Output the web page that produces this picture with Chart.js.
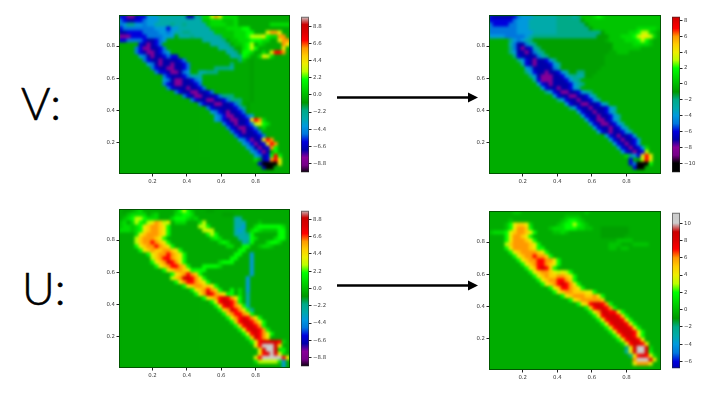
<!DOCTYPE html>
<html><head><meta charset="utf-8">
<script src="https://cdn.jsdelivr.net/npm/chart.js@4"></script>
<style>
html,body{margin:0;padding:0;background:#fff;width:719px;height:393px;overflow:hidden}
#stage{position:relative;width:719px;height:393px}
.clip{position:absolute;overflow:hidden}
.clip canvas{position:absolute;filter:blur(1.7px)}
.over{position:absolute;filter:blur(.45px)}
.lab{position:absolute;font-family:Lato,"Open Sans",sans-serif;font-weight:300;font-size:45px;line-height:45px;color:#000;-webkit-text-stroke:.6px #000}
svg{position:absolute;left:0;top:0}
</style></head><body><div id="stage">
<div class="lab" style="left:21px;top:81px">V:</div>
<div class="lab" style="left:22px;top:266px">U:</div>
<svg width="719" height="393"><g fill="#000" stroke="#000">
<line x1="337" y1="97.5" x2="470" y2="97.5" stroke-width="2.6"/><path d="M468 92.5L478 97.5L468 102.5Z" stroke-width="0"/>
<line x1="337" y1="285.5" x2="470" y2="285.5" stroke-width="2.6"/><path d="M468 280.5L478 285.5L468 290.5Z" stroke-width="0"/>
</g></svg>
</div>
<script>
// value levels used by the heat cells
const levelCodes  = ['k','q','p','n','b','a','s','c','t','h','i','.','g','e','l','m','y','u','o','r','d','w'];
const levelValues = [-10.5,-9.2,-8.2,-7,-6,-5,-4,-3,-2,-1,-0.8,-0.5,0.3,1,2,3,4,5,6,7,8.5,10];
const cols = 43, rowsCount = 40;
const xDomain = [0.005,1.0], yDomain = [0.008,0.992];
const axisTicks = [0.2,0.4,0.6,0.8];
const cbTicks11 = [8.8,6.6,4.4,2.2,0,-2.2,-4.4,-6.6,-8.8];
const cbTicksVR = [8,6,4,2,0,-2,-4,-6,-8,-10];
const cbTicksUR = [10,8,6,4,2,0,-2,-4,-6];
const cbRangeVL = [-9.9,10], cbRangeVR = [-11.15,8.48], cbRangeUL = [-9.9,9.9], cbRangeUR = [-6.77,11.2];
const spectralStops = [[0,0,0],[119,0,136],[136,0,153],[0,0,170],[0,0,221],[0,119,221],[0,153,221],[0,170,170],[0,170,136],[0,153,0],[0,187,0],[0,221,0],[0,255,0],[187,255,0],[238,238,0],[255,204,0],[255,153,0],[255,0,0],[221,0,0],[204,0,0],[204,204,204]];

const vLeftRows = [
"0:bbppnbbsssccccccc 17:nncteemoyeeee",
"0:abnnbbassscccccccccccct 21:ggeeeggge",
"0:asttssasscccctcctccccct 22:geeeegge 38:eeeee",
"0:baaaaaaaasssbsscccccccct 23:ggggeeeell",
"0:nnbbbbaaaassascc 16:ttcccccct 24:gggggeeell 37:yooy",
"0:pppbbbbaaaasss 15:ccc 18:tcc 20:ccccct 26:gggeeelm 34:mmyle 39:eoo",
"0:bbaaa 5:abnnbas 21:ccccct 28:ggeeellm 35:lee 40:yoo",
"5:bnpnba 23:cccct 29:ggelm 35:eg 41:oy",
"4:abppnnba 25:ccct 31:elml 41:y",
"4:abnppnbas 27:cct 31:lle 36:e 38:yrro",
"5:sanpnnba 12:abb 28:cct 31:le 35:eyme",
"6:abnnpnnnnba 30:tg 33:i",
"7:sanpnnpnnba 28:t 33:i",
"8:abnnppnnba 24:ttttc 33:i",
"9:abbnppnas 20:ccttt 33:i",
"11:abnnnbaccc 33:i",
"11:sanppnnbas 33:i",
"11:abnppnnnba 33:i",
"12:abnnnpnnba 33:i",
"14:abnnppnnba 33:i",
"16:abnppnnnba 26:ttt 33:i",
"18:abnnppnnba 28:ttt 33:i",
"20:abnnppnnba 30:t 32:i",
"22:abnnnnnba 31:t 32:i",
"23:sabnpnnba 32:i",
"24:sabppnnbas",
"24:sabnppnnb 33:yroe",
"26:abnpnnba 34:myle",
"27:abnppnba 36:e",
"28:abnpnnba",
"29:abnnnnba",
"30:sabpnna 36:yro",
"31:sabpnba 37:yro",
"32:sanpnb 38:ol",
"33:sabpn 39:l",
"34:sanb 38:lrl",
"34:e 36:nb 38:ory",
"35:bkkkkk 40:y",
"36:nkk",
""];

const vRightRows = [
"0:bnnnnnbasssccccccttttctgggelegggggggggggggggg",
"0:bbbbbbasssccccccctttttt 22:tigggggggggggggggggggg",
"0:abbbbaasssccccccctttttt 22:tti 25:gggggggggggggggggg",
"0:aaaaaaasssccccccctttttttt 23:tti 26:ggggggggggg 37:eeeeegg",
"0:aaaaaaassssccccccttttttttttt 27:ti 29:gggggg 35:eelmmeg",
"0:ssssaaaaasctttti 15:tttttttttttt 27:iii 30:ggg 33:eeelmyyme",
"5:tsasct 11:iiiiiiiiiiiiiiiiii 30:gggg 34:eeelmlg",
"5:cannact 12:iiiiiiiiiiiiiiiiii 30:iggggg 36:eeeeg",
"5:tanpnbct 13:iiiiiiiiiiiiiiiiii 31:ggggggg",
"5:tsnnpnact 14:iiiiiiiiiiiiiiii 32:ggg",
"6:tbnnnnact 15:iiiiiiiiiiiiii",
"7:tsbnpnnbst 17:iiiiiiiiiiii",
"8:cbnpnnnbsc 18:iiiiiiiiiii",
"9:sannnnnac 18:iiiiiiiiii",
"9:tsbnnpnnbsc 20:ii 22:tt 24:iii",
"10:tsnpppnnbsct 22:cc 24:ii",
"11:cbpppnnnbsct",
"12:sbnpnnnnbsct",
"13:sbnnpnnbsc",
"14:tsbnppnnbsct",
"16:sbnnppnnbsc",
"17:tsbnnpnnbsc",
"19:sbnnppnnbsc",
"20:tsbnnpnnnbsc",
"22:sbnnpnnbsc",
"23:sbnnpnnbsc",
"24:sbnppnbsc",
"25:sbnppnbsc",
"26:sbnnpnbsc",
"27:sbnpnnbsc",
"29:sbnpnnbs",
"30:sbnpnnbs",
"31:sbnpnbs",
"32:sbnpnbs 39:e",
"33:sbnpnbs 39:m",
"34:etsbna 38:yry",
"35:b 38:mry",
"35:bakkk 40:l",
"36:bkk",
""];

const uLeftRows = [
"1:ii 4:ge 14:glmlg 22:ii",
"2:gee 5:ee 8:ge 14:eelle 26:iii",
"1:ge 3:lmmle 8:ee 13:elllege 29:cc",
"0:ge 3:emle 7:myoumy 14:eee 20:em 29:ccc 35:g",
"0:gee 3:ge 5:lyuoouyl 20:mml 29:ccs 34:elllllle",
"0:eee 3:ge 5:lyuoouyl 21:mym 29:csc 33:eleggggll",
"4:eyuooouyl 22:lml 29:ccct 33:l 40:ll",
"4:muooouyl 23:ele 30:ccc 33:le 39:ell",
"4:muoorouyl 25:ele 31:ct 33:l 37:elle",
"4:lyuoorouyl 27:ee 31:ll 35:geeg",
"5:lyuouuoouyl 30:ll",
"33:s 7:lyuoorouyl 29:ll",
"33:s 8:muorrouyl 28:ll",
"33:s 8:lyuodroyl 25:elll",
"33:s 9:lyuorroul 21:lllle",
"33:s 11:lyuoouyl 19:lll",
"33:s 13:lyuoroul",
"32:s 13:muoddroyl",
"32:s 14:lyorrouyl",
"32:s 16:lyuoouuyl",
"32:s 18:lyuoroul 28:l 30:e",
"32:c 19:lyodrouyl 28:l 30:e",
"32:c 21:lyuordroyl",
"32:c 23:lyrddrol",
"32:c 24:lyrdroul",
"25:luodroyl 33:c",
"26:luorroul",
"27:lyordroyl",
"28:lurddroyl",
"29:lurddrol",
"30:lyrddrol",
"31:lyrdroyl",
"32:ludroy",
"33:lyrddddre",
"34:yrwwwdy",
"35:ydwwdel",
"35:yrdwdye",
"34:yrwwwwwry",
"34:emmmmme 41:s",
"41:s"];

const uRightRows = [
"6:gg 24:g",
"19:gggg",
"5:g 18:gelleg",
"4:g 5:lyuuye 17:gellmleg",
"4:g 5:lyooul 15:geeellleegg 28:iiiiiii",
"0:geeel 5:yuoouyl 16:ggeg 28:iiiiiii",
"4:lyoouyl 28:iiiiii",
"4:lyooouyl 32:gggg",
"4:muoooouyl 30:ggg 36:gggg",
"4:lyoooouyll 30:gg 33:gg",
"5:lyuoooouyl",
"6:lyuoorooul",
"7:lyuoorrooyl",
"8:lyuorrouyl",
"9:lyurdrul",
"10:lyuoouymyml",
"11:lyuouuoouyl",
"12:lyuoorroul",
"13:lyuordroyl",
"15:lyurrouyl",
"16:lyuoouuuyyl",
"18:lyuooouuoyl",
"20:lyuooooou",
"22:lyurddrol",
"24:lurddrol",
"25:lyoddrryl",
"26:lyrdddrul",
"27:lyrdddryl",
"28:lyrdddryl",
"29:lyrdddryl",
"30:lyrdddryl",
"31:lyrddryl",
"32:lyrddry",
"33:eyrddry",
"34:tydwwde",
"34:cydwwdl",
"35:tyrdrye",
"36:owwwdy",
"36:yoooy",
""];

const norm = v => Math.max(0,Math.min(1,(v+10)/20));
function colorFor(v){
  const p = norm(v)*(spectralStops.length-1), i = Math.min(spectralStops.length-2,Math.floor(p)), f = p-i;
  const a = spectralStops[i], b = spectralStops[i+1];
  return `rgb(${a.map((c,k)=>Math.round(c+(b[k]-c)*f)).join(',')})`;
}
function cellsFrom(rows,bg){
  const out = [];
  rows.forEach((row,r)=>{
    const line = new Array(cols).fill(bg);
    row.split(' ').filter(Boolean).forEach(tok=>{
      const [c,codes] = tok.split(':');
      [...codes].forEach((ch,k)=>{
        const col = +c+k;
        if(col<cols) line[col] = levelValues[levelCodes.indexOf(ch)];
      });
    });
    line.forEach((v,c)=>out.push({
      x:xDomain[0]+(c+.5)/cols*(xDomain[1]-xDomain[0]),
      y:yDomain[1]-(r+.5)/rowsCount*(yDomain[1]-yDomain[0]),
      v
    }));
  });
  return out;
}
const frame = color => ({id:'frame',afterDraw(ch){
  const a = ch.chartArea, c = ch.ctx;
  c.save();c.strokeStyle=color;c.lineWidth=1;
  c.strokeRect(a.left+.5,a.top+.5,a.width-1,a.height-1);c.restore();
}});
const stage = document.getElementById('stage');
function addCanvas(cls,l,t,w,h,parent){
  const cv = document.createElement('canvas');
  cv.width=w;cv.height=h;cv.className=cls;
  cv.style.cssText=`left:${l}px;top:${t}px;width:${w}px;height:${h}px`;
  (parent||stage).appendChild(cv);return cv;
}
const tickFont = {family:'"DejaVu Sans"',size:5.4};
const tickColor = '#3a3a3a';

function panel(rows,bg,L,R,T,B,cbL,cbRange,cbTicks,dec){
  const W=R-L,H=B-T,P=6;
  // heat cells
  const clip = document.createElement('div');
  clip.className='clip';clip.style.cssText=`left:${L}px;top:${T}px;width:${W}px;height:${H}px;background:${colorFor(bg)}`;
  stage.appendChild(clip);
  new Chart(addCanvas('',-P,-P,W+2*P,H+2*P,clip),{
    type:'scatter',
    data:{datasets:[{data:cellsFrom(rows,bg),clip:false,pointStyle:'rect',borderWidth:0,
      pointBackgroundColor:c=>colorFor(c.raw.v),
      pointRadius:c=>{const a=c.chart.chartArea;return a?a.width/cols/2*1.2*Math.SQRT2:3;}}]},
    options:{responsive:false,animation:false,events:[],layout:{padding:P},
      plugins:{legend:{display:false},tooltip:{enabled:false}},
      scales:{x:{display:false,min:xDomain[0],max:xDomain[1]},y:{display:false,min:yDomain[0],max:yDomain[1]}}}
  });
  // axes and frame
  const ax = (fit)=>({min:0,max:1,afterBuildTicks:s=>{s.ticks=axisTicks.map(value=>({value}));},
    ticks:{font:tickFont,color:tickColor,padding:1.5,autoSkip:false,maxRotation:0,callback:v=>v.toFixed(1)},
    grid:{drawOnChartArea:false,drawTicks:true,tickLength:2.5,color:'#222'},border:{display:false},afterFit:fit});
  const xs = ax(s=>{s.height=16;}), ys = ax(s=>{s.width=30;});
  xs.min=xDomain[0];xs.max=xDomain[1];ys.min=yDomain[0];ys.max=yDomain[1];
  new Chart(addCanvas('over',L-30,T-5,W+35,H+21),{
    type:'scatter',data:{datasets:[{data:[]}]},
    options:{responsive:false,animation:false,events:[],layout:{padding:{top:5,right:5,left:0,bottom:0}},
      plugins:{legend:{display:false},tooltip:{enabled:false}},scales:{x:xs,y:ys}},
    plugins:[frame('rgba(0,70,0,.85)')]
  });
  // colour bar
  new Chart(addCanvas('over',cbL,T-3,38,H+6),{
    type:'bar',
    data:{labels:['c'],datasets:[{data:[cbRange],barPercentage:1,categoryPercentage:1,borderSkipped:false,
      backgroundColor(c){
        const a=c.chart.chartArea;if(!a)return '#888';
        const g=c.chart.ctx.createLinearGradient(0,a.bottom,0,a.top);
        const span=cbRange[1]-cbRange[0];
        g.addColorStop(0,colorFor(cbRange[0]));
        spectralStops.forEach((s,i)=>{
          const v=-10+20*i/(spectralStops.length-1),o=(v-cbRange[0])/span;
          if(o>0&&o<1)g.addColorStop(o,colorFor(v));
        });
        g.addColorStop(1,colorFor(cbRange[1]));return g;
      }}]},
    options:{responsive:false,animation:false,events:[],layout:{padding:{top:3,bottom:3,left:0,right:0}},
      plugins:{legend:{display:false},tooltip:{enabled:false}},
      scales:{x:{display:false},
        y:{position:'right',min:cbRange[0],max:cbRange[1],
          afterBuildTicks:s=>{s.ticks=cbTicks.map(value=>({value}));},
          afterFit:s=>{s.width=30;},
          ticks:{font:tickFont,color:tickColor,padding:1.5,autoSkip:false,
            callback:v=>(v<0?'\u2212':'')+Math.abs(v).toFixed(dec)},
          grid:{drawOnChartArea:false,tickLength:2.5,color:'#222'},border:{display:false}}}},
    plugins:[frame('rgba(40,40,40,.55)')]
  });
}
panel(vLeftRows,-0.5,119,290,15,174,301,cbRangeVL,cbTicks11,1);
panel(vRightRows,-0.4,489,661,15,174,672,cbRangeVR,cbTicksVR,0);
panel(uLeftRows,-0.5,119,290,209,368,301,cbRangeUL,cbTicks11,1);
panel(uRightRows,-0.4,489,661,211,370,672,cbRangeUR,cbTicksUR,0);
</script></body></html>
